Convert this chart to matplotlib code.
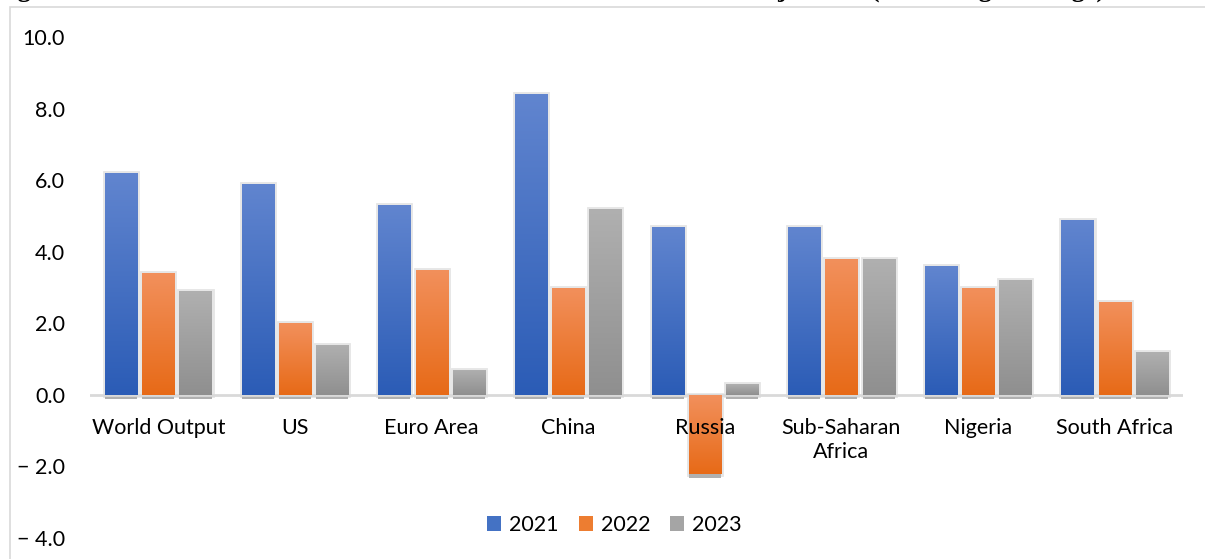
import numpy as np
import matplotlib
matplotlib.use("Agg")
import matplotlib.pyplot as plt
from matplotlib.colors import LinearSegmentedColormap
from matplotlib.patches import Rectangle, Patch

categories = ['World Output', 'US', 'Euro Area', 'China', 'Russia',
              'Sub-Saharan\nAfrica', 'Nigeria', 'South Africa']
years = ['2021', '2022', '2023']
vals_2021 = [6.2, 5.9, 5.3, 8.4, 4.7, 4.7, 3.6, 4.9]
vals_2022 = [3.4, 2.0, 3.5, 3.0, -2.2, 3.8, 3.0, 2.6]
vals_2023 = [2.9, 1.4, 0.7, 5.2, 0.3, 3.8, 3.2, 1.2]
y_ticks = [-4, -2, 0, 2, 4, 6, 8, 10]
y_tick_labels = ['\u2212 4.0', '\u2212 2.0', '0.0', '2.0', '4.0', '6.0', '8.0', '10.0']
title = 'Figure 1: Overview of the World Economic Outlook GDP Growth Projections (Percentage Change)'

series = [vals_2021, vals_2022, vals_2023]
# (top colour, bottom colour) for the gradient fill
grads = [('#6185cf', '#2b5cb6'), ('#f2905c', '#e76a17'), ('#b0b0b0', '#8f8f8f')]
solid = ['#4472c4', '#ed7d31', '#a5a5a5']

plt.rcParams['font.family'] = ['Lato', 'DejaVu Sans']

fig = plt.figure(figsize=(12.05, 5.59), dpi=100)
ax = fig.add_axes([90 / 1205, 21 / 559, 1093 / 1205, 501 / 559])

x = np.arange(len(categories))
width = 0.235
step = 0.272

for i, vals in enumerate(series):
    pos = x + (i - 1) * step
    # soft shadow around the bars
    ax.bar(pos, vals, width, color='none', edgecolor='#e6e6e6', linewidth=3.5, zorder=1)
    # darker strip under the bottom of each bar
    bottoms = [min(v, 0) for v in vals]
    ax.bar(pos, [-0.12] * len(vals), width, bottom=bottoms, color='#b0b0b0', zorder=1)
    bars = ax.bar(pos, vals, width, color=solid[i], zorder=2)
    cmap = LinearSegmentedColormap.from_list('g%d' % i, [grads[i][1], grads[i][0]])
    grad = np.linspace(0, 1, 256).reshape(-1, 1)
    for b in bars:
        x0, y0 = b.get_x(), b.get_y()
        w, h = b.get_width(), b.get_height()
        lo, hi = min(y0, y0 + h), max(y0, y0 + h)
        im = ax.imshow(grad, cmap=cmap, origin='lower', aspect='auto',
                       extent=(x0, x0 + w, lo, hi), zorder=3)
        im.set_clip_path(b)

ax.axhline(0, color='#d9d9d9', lw=2, zorder=2.5)

ax.set_xlim(-0.5, len(categories) - 0.5)
ax.set_ylim(-4, 10)
ax.set_yticks(y_ticks)
ax.set_yticklabels(y_tick_labels)
ax.set_xticks(x)
ax.set_xticklabels(categories)
ax.xaxis.set_zorder(10)

for s in ['top', 'right', 'left']:
    ax.spines[s].set_visible(False)
ax.spines['bottom'].set_position(('data', 0))
ax.spines['bottom'].set_visible(False)
ax.tick_params(axis='both', length=0, labelsize=15.5, colors='black')
ax.tick_params(axis='x', pad=17)
ax.tick_params(axis='y', pad=18)

handles = [Patch(facecolor=c, label=y) for c, y in zip(solid, years)]
fig.legend(handles=handles, loc='center', bbox_to_anchor=(0.51, 0.061), ncol=3,
           frameon=False, fontsize=15.5, handlelength=0.65, handleheight=0.65,
           handletextpad=0.35, columnspacing=0.95)

# light border of the chart area
fig.patches.append(Rectangle((10 / 1205, -0.1), 1.1, 1.1 - 7 / 559, transform=fig.transFigure,
                             fill=False, edgecolor='#d9d9d9', lw=1.2))

# caption above the chart, cut off by the image edge
fig.text(-0.005, 1 + 3 / 559, title, family='Liberation Serif', weight='bold',
         fontsize=19, va='baseline', ha='left')

fig.savefig('out.png', dpi=100)
